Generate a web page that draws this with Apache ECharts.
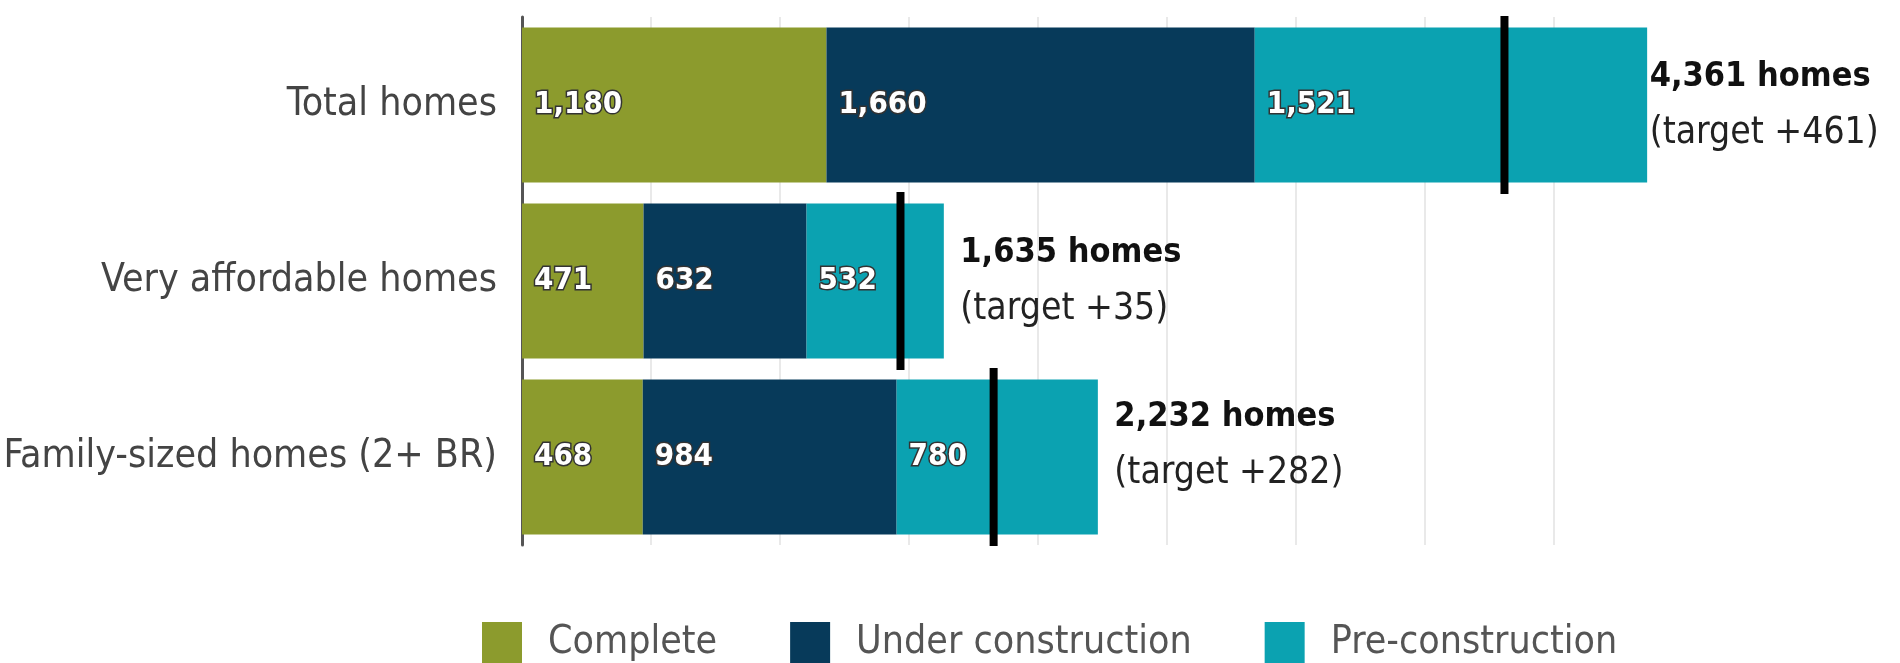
<!DOCTYPE html>
<html>
<head>
<meta charset="utf-8">
<title>Homes progress</title>
<script src="https://cdn.jsdelivr.net/npm/echarts@6/dist/echarts.min.js"></script>
<style>
  html, body { margin: 0; padding: 0; background: #fff; }
  #chart { width: 1900px; height: 663px; }
</style>
</head>
<body>
<div id="chart"></div>
<script>
// data
const categories = ['Total homes', 'Very affordable homes', 'Family-sized homes (2+ BR)'];
const complete = [1180, 471, 468];
const underConstruction = [1660, 632, 984];
const preConstruction = [1521, 532, 780];
const totals = [4361, 1635, 2232];
const overTarget = [461, 35, 282];
const targetMarks = [3808, 1467, 1828]; // where the black lines sit

const FONT = "'DejaVu Sans Condensed', 'Liberation Sans', sans-serif";
const fmt = v => v.toLocaleString('en-US');

const chart = echarts.init(document.getElementById('chart'), null, { renderer: 'canvas' });

const valueLabel = {
  show: true,
  position: 'insideLeft',
  distance: 12,
  formatter: p => fmt(p.value),
  color: '#fff',
  fontFamily: FONT,
  fontWeight: 'bold',
  fontSize: 31,
  textBorderColor: '#333',
  textBorderWidth: 3
};

function barSeries(name, data, color) {
  return {
    name, type: 'bar', stack: 'homes', data,
    barWidth: 155, clip: false,
    itemStyle: { color },
    label: valueLabel,
    emphasis: { disabled: true }
  };
}

// small per-row nudges of the total labels
const labelDist = [2, 16, 16];
const labelShift = [0, 0, -12];

const option = {
  animation: false,
  grid: { left: 522, right: 346, top: 17, height: 528, outerBoundsMode: 'none' },
  xAxis: {
    type: 'value', min: 0, max: 4000, interval: 500,
    axisLine: { show: false }, axisTick: { show: false }, axisLabel: { show: false },
    splitLine: { lineStyle: { color: '#e2e2e2', width: 1.5 } }
  },
  yAxis: {
    type: 'category', data: categories, inverse: true,
    axisLine: { lineStyle: { color: '#555', width: 3 } },
    axisTick: { show: false },
    axisLabel: { margin: 25, color: '#444', fontFamily: FONT, fontSize: 39 }
  },
  legend: {
    data: ['Complete', 'Under construction', 'Pre-construction'],
    left: 482, top: 622, padding: 0, icon: 'rect',
    itemWidth: 40, itemHeight: 42, itemGap: 73,
    textStyle: { color: '#555', fontFamily: FONT, fontSize: 39, padding: [0, 0, 0, 21] }
  },
  series: [
    barSeries('Complete', complete, '#8c9b2d'),
    barSeries('Under construction', underConstruction, '#073a5a'),
    barSeries('Pre-construction', preConstruction, '#0ba2b1'),
    {
      name: 'target', type: 'scatter', z: 5, clip: false,
      symbol: 'rect', symbolSize: [8, 178],
      itemStyle: { color: '#000', opacity: 1 },
      data: targetMarks.map((v, i) => [v, categories[i]]),
      emphasis: { disabled: true }
    },
    {
      name: 'totals', type: 'scatter', z: 6, clip: false,
      symbolSize: 1, itemStyle: { color: 'rgba(0,0,0,0)', opacity: 1 },
      data: totals.map((v, i) => ({
        value: [v, categories[i]],
        label: { distance: labelDist[i], offset: [0, labelShift[i]] }
      })),
      label: {
        show: true, position: 'right',
        formatter: p => '{b|' + fmt(totals[p.dataIndex]) + ' homes}\n{r|(target +' + overTarget[p.dataIndex] + ')}',
        rich: {
          b: { fontFamily: FONT, fontWeight: 'bold', fontSize: 34, lineHeight: 56, color: '#111' },
          r: { fontFamily: FONT, fontSize: 37, lineHeight: 56, color: '#222' }
        }
      },
      emphasis: { disabled: true }
    }
  ]
};

chart.setOption(option);
</script>
</body>
</html>
